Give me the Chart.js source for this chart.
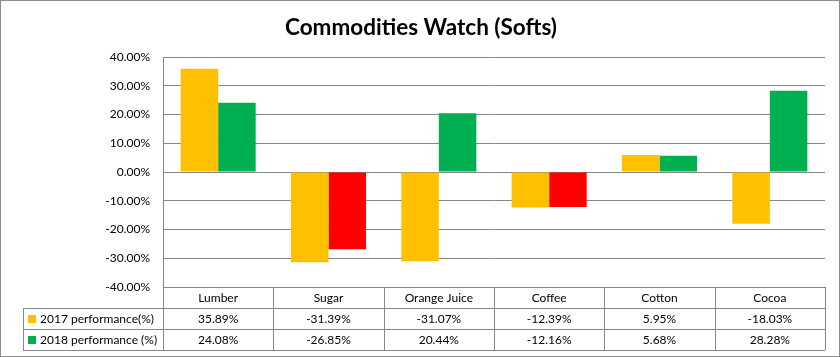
<!DOCTYPE html>
<html><head><meta charset="utf-8">
<script src="https://cdn.jsdelivr.net/npm/chart.js@4/dist/chart.umd.min.js"></script>
<style>html,body{margin:0;padding:0;background:#fff}#wrap{width:840px;height:357px;position:relative}</style>
</head><body>
<div id="wrap"><canvas id="c" width="840" height="357"></canvas></div>
<script>
const chartTitle = "Commodities Watch (Softs)";
const categories = ["Lumber","Sugar","Orange Juice","Coffee","Cotton","Cocoa"];
const seriesNames = ["2017 performance(%)","2018 performance (%)"];
const perf2017 = [35.89,-31.39,-31.07,-12.39,5.95,-18.03];
const perf2018 = [24.08,-26.85,20.44,-12.16,5.68,28.28];
const yTicks = [-40,-30,-20,-10,0,10,20,30,40];

const YELLOW = "#FFC000", GREEN = "#00B050", RED = "#FF0000", LINE = "#878787";
const FONT = "Lato";

const tablePlugin = {
  id: "dataTable",
  afterDraw(chart) {
    const ctx = chart.ctx, x = chart.scales.x, area = chart.chartArea;
    const top = area.bottom, rowH = 21;
    const left = area.left, right = area.right, legL = 23;
    const colW = (right - left) / categories.length;
    ctx.save();
    ctx.strokeStyle = LINE; ctx.lineWidth = 1;
    ctx.beginPath();
    for (let r = 1; r <= 3; r++) {
      const y = Math.round(top + r * rowH) + 0.5;
      ctx.moveTo(legL, y); ctx.lineTo(right, y);
    }
    for (let i = 0; i <= categories.length; i++) {
      const xx = Math.round(left + i * colW) + 0.5;
      ctx.moveTo(xx, top); ctx.lineTo(xx, top + 3 * rowH);
    }
    ctx.moveTo(legL + 0.5, top + rowH); ctx.lineTo(legL + 0.5, top + 3 * rowH);
    ctx.stroke();
    ctx.fillStyle = "#000";
    ctx.font = "12px " + FONT;
    ctx.textAlign = "center"; ctx.textBaseline = "middle";
    const rows = [perf2017, perf2018];
    categories.forEach((c, i) => {
      const cx = x.getPixelForValue(i);
      ctx.fillText(c, cx, top + rowH / 2 + 1);
      rows.forEach((arr, r) => {
        ctx.fillText(arr[i].toFixed(2) + "%", cx, top + rowH * (r + 1.5) + 1);
      });
    });
    ctx.textAlign = "left";
    const legColors = [YELLOW, GREEN];
    seriesNames.forEach((n, r) => {
      const cy = top + rowH * (r + 1.5);
      ctx.fillStyle = legColors[r];
      ctx.fillRect(28, Math.round(cy - 3.5), 8, 8);
      ctx.fillStyle = "#000";
      ctx.fillText(n, 40, cy + 1);
    });
    ctx.restore();
  }
};

const borderPlugin = {
  id: "outerBorder",
  beforeDraw(chart) {
    const ctx = chart.ctx;
    ctx.save();
    ctx.fillStyle = "#fff"; ctx.fillRect(0, 0, chart.width, chart.height);
    ctx.strokeStyle = "#8c8c8c"; ctx.lineWidth = 1;
    ctx.strokeRect(0.5, 0.5, chart.width - 1, chart.height - 1);
    ctx.fillStyle = "#000";
    ctx.font = "bold 22.5px " + FONT;
    ctx.textAlign = "center"; ctx.textBaseline = "alphabetic";
    ctx.fillText(chartTitle, 421, 35);
    ctx.restore();
  }
};

new Chart(document.getElementById("c"), {
  type: "bar",
  data: {
    labels: categories,
    datasets: [
      { label: seriesNames[0], data: perf2017, backgroundColor: YELLOW, borderWidth: 0 },
      { label: seriesNames[1], data: perf2018, backgroundColor: perf2018.map(v => v < 0 ? RED : GREEN), borderWidth: 0 }
    ]
  },
  options: {
    responsive: false, animation: false, devicePixelRatio: 1,
    layout: { padding: { left: 0, right: 15, top: 57, bottom: 70 } },
    categoryPercentage: 0.68, barPercentage: 1.0,
    plugins: {
      legend: { display: false },
      tooltip: { enabled: false },
      title: { display: false }
    },
    scales: {
      x: { display: false },
      y: {
        min: -40, max: 40,
        afterBuildTicks(s) { s.ticks = yTicks.map(v => ({ value: v })); },
        afterFit(s) { s.width = 163; },
        ticks: {
          color: "#000", padding: 13,
          font: { family: FONT, size: 12 },
          callback: v => v.toFixed(2) + "%"
        },
        grid: { color: LINE, drawTicks: false, lineWidth: 1 },
        border: { color: LINE, display: true }
      }
    }
  },
  plugins: [borderPlugin, tablePlugin]
});
</script>
</body></html>
